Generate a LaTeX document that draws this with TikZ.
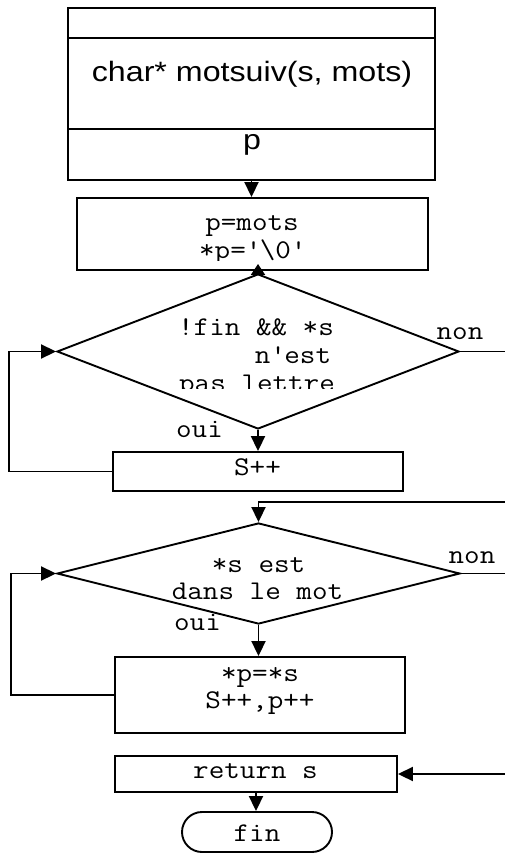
\documentclass[tikz,border=0pt]{standalone}
\usepackage{fontspec}
\usetikzlibrary{arrows.meta,shapes.geometric,shapes.misc}
\newfontfamily\sansf[FakeStretch=1.15]{Liberation Sans}
\newfontfamily\monof[FakeStretch=1.12]{Latin Modern Mono}
\tikzset{
  wire/.style={line width=1.9pt},
  arr/.style={wire, -{Triangle[length=15pt,width=14pt]}},
  box/.style={draw, line width=1.9pt, rectangle, inner sep=0pt},
  test/.style={draw, line width=1.9pt, diamond, inner sep=0pt},
  term/.style={draw, line width=1.9pt, rounded rectangle, inner sep=0pt},
  code/.style={inner sep=0pt, anchor=base, font=\monof\fontsize{27}{29}\selectfont},
  head/.style={inner sep=0pt, anchor=base, font=\sansf\fontsize{28}{30}\selectfont},
}
\begin{document}
\begin{tikzpicture}[x=1pt,y=-1pt]
\useasboundingbox (0,0) rectangle (505,853);

% function header block
\node[box, minimum width=367pt, minimum height=172pt] (hdr) at (251.5,94) {};
\draw[wire] ([yshift=-31pt]hdr.north west) -- ([yshift=-31pt]hdr.north east);
\draw[wire] ([yshift=-122pt]hdr.north west) -- ([yshift=-122pt]hdr.north east);
\node[head] (sig) at (252,82) {char* motsuiv(s, mots)};
\node[head] (res) at (252,150) {p};

% initialisation
\node[box, minimum width=351pt, minimum height=72pt] (init) at (252.5,234) {};
\node[code] (i1) at (252,230) {p=mots};
\begin{scope}
  \clip (0,0) rectangle (505,260);
  \node[code] (i2) at (252,258) {*p=\textquotesingle\textbackslash 0\textquotesingle};
\end{scope}

% first test: skip non-letters
\node[test, minimum width=402pt, minimum height=155pt] (d1) at (258,351.5) {};
\node[code] (t1) at (256,335) {!fin \&\& *s};
\node[code] (t2) at (293,363) {n\textquotesingle est};
\begin{scope}
  \clip (0,0) rectangle (505,388);
  \node[code] (t3) at (257,391) {pas lettre};
\end{scope}
\node[code] (n1) at (460,339) {non};
\node[code] (o1) at (199.5,437) {oui};

\node[box, minimum width=290pt, minimum height=39pt] (sinc) at (258,471.5) {};
\node[code] (sinct) at (257.5,475) {S++};

% second test: copy the word
\node[test, minimum width=403pt, minimum height=101pt] (d2) at (258.5,573.5) {};
\node[code] (u1) at (258.5,572) {*s est};
\node[code] (u2) at (257.5,599) {dans le mot};
\node[code] (n2) at (472,563) {non};
\begin{scope}
  \clip (0,0) rectangle (505,630);
  \node[code] (o2) at (197.5,630) {oui};
\end{scope}

\node[box, minimum width=290pt, minimum height=76pt] (cp) at (260,695) {};
\node[code] (c1) at (260,681) {*p=*s};
\node[code] (c2) at (260,708) {S++,p++};

% exit
\node[box, minimum width=282pt, minimum height=36pt] (ret) at (256,774) {};
\node[code] (rt) at (255.5,778) {return s};
\node[term, minimum width=150pt, minimum height=40pt] (fin) at (257,832) {};
\node[code] (ft) at (257,841) {fin};

% connectors
\coordinate (rim) at (505,0);
\coordinate (lp1) at (9,0);
\coordinate (lp2) at (11,0);
\coordinate (back) at (505,502);

\draw[arr] (hdr.south) -- (hdr.south |- init.north);
\draw[wire, -{Triangle[length=11pt,width=14pt]}, shorten >=-7pt] (d1.north) -- (d1.north |- init.south);
\draw[wire] (d1.east) -- (d1.east -| rim);
\draw[arr] (d1.south) -- (d1.south |- sinc.north);
\draw[arr] (sinc.west) -- (sinc.west -| lp1) |- (d1.west);

\draw[arr] (back) -| (d2.north);
\draw[wire] (d2.east) -- (d2.east -| rim);
\draw[arr] (d2.south) -- (d2.south |- cp.north);
\draw[arr] (cp.west) -- (cp.west -| lp2) |- (d2.west);

\draw[arr] (ret.east -| rim) -- (ret.east);
\draw[arr] (ret.south) -- (ret.south |- fin.north);
\end{tikzpicture}
\end{document}
